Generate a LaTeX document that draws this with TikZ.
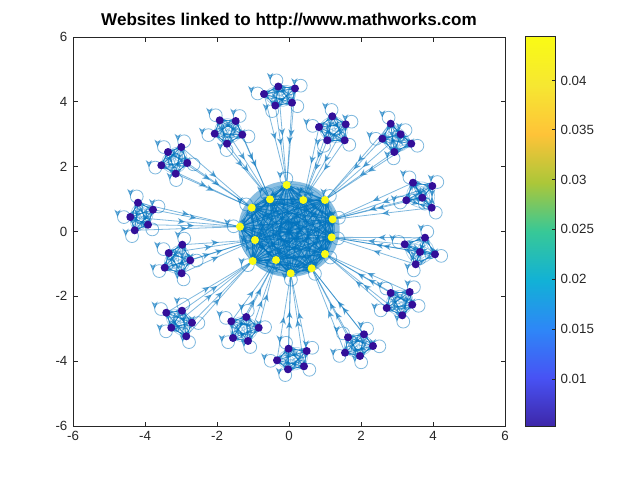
\documentclass[tikz,border=0pt]{standalone}
\usepackage{fontspec}
\setmainfont{Liberation Sans}
\usetikzlibrary{decorations.markings,arrows.meta,calc}
\pgfdeclarelayer{edges}
\pgfsetlayers{edges,main}
\definecolor{eblue}{rgb}{0,0.447,0.741}
\definecolor{ylw}{rgb}{0.9769,0.9839,0.0805}
\definecolor{prp}{rgb}{0.20,0.06,0.60}
\definecolor{axc}{rgb}{0.15,0.15,0.15}
\definecolor{p0}{rgb}{0.2422,0.1504,0.6603}
\definecolor{p1}{rgb}{0.2810,0.3228,0.9579}
\definecolor{p2}{rgb}{0.1786,0.5289,0.9682}
\definecolor{p3}{rgb}{0.0689,0.6948,0.8394}
\definecolor{p4}{rgb}{0.2161,0.7843,0.5923}
\definecolor{p5}{rgb}{0.6720,0.7793,0.2227}
\definecolor{p6}{rgb}{0.9970,0.7659,0.2199}
\definecolor{p7}{rgb}{0.9651,0.9063,0.1939}
\definecolor{p8}{rgb}{0.9769,0.9839,0.0805}
\tikzset{
  ynode/.style={circle,fill=ylw,inner sep=0pt,minimum size=6pt},
  cnode/.style={circle,fill=prp,inner sep=0pt,minimum size=6pt},
  midarrow/.style={postaction={decorate},decoration={markings,mark=at position 0.5 with {\arrow{Stealth[length=5.6pt,width=4.8pt,inset=1.6pt]}}}},
  gedge/.style={draw=eblue,opacity=0.5,line width=0.6pt,midarrow},
  cedge/.style={draw=eblue,opacity=0.35,line width=0.5pt},
  gloop/.style={draw=eblue,opacity=0.5,line width=0.6pt,midarrow},
  ticklab/.style={text=axc,font=\fontsize{10}{12}\selectfont,inner sep=1pt},
  titlelab/.style={text=black,font=\bfseries\fontsize{12.8}{14}\selectfont,inner sep=0pt},
  axline/.style={draw=axc,line width=0.5pt}
}
\def\clusterlist{%
A/1/{(264,94),(278.3,86.5),(295,88.5),(292,102.7),(275.3,105.5)},%
B/2/{(219.7,120.3),(235.7,121),(214.7,133.7),(242.3,134.7),(227,143.7)},%
C/5/{(181.3,147),(168,152),(187.3,163),(161.3,165.3),(175.7,173.7)},%
D/7/{(138,202.7),(153,209.7),(130.3,217),(148,224.7),(134.7,230.3)},%
E/3/{(332.3,116.3),(319,127),(345.7,124.3),(327.3,140.3),(344.7,140.3)},%
F/4/{(390.7,123.7),(400.7,134.3),(382.3,138.7),(411.3,143.7),(394.3,152)},%
G/6/{(413,182.7),(432.3,186),(406.3,200.3),(422.3,197.7),(431.7,207.7)},%
H/8/{(182.3,244.7),(168.7,253),(190.3,260.3),(164.7,267.7),(181.7,273.3)},%
I/11/{(166.3,312.7),(182,310.7),(192,322.7),(171.3,327.7),(186.3,336.3)},%
J/12/{(231.3,321.3),(246.3,317),(258.7,327.7),(233,338),(248,341)},%
K/14/{(288.5,348.7),(306.7,351),(277,360.3),(288,369.3),(304,366.3)},%
L/13/{(348,337.3),(364,334.3),(373,346),(345,352.7),(360,356)},%
M/10/{(390.7,293),(409.7,292),(386.7,308),(412.3,304.7),(402.3,315.3)},%
N/9/{(425,237.7),(404.7,244.3),(420,252),(435,254.3),(415.7,264.3)}}
\begin{document}
\begin{tikzpicture}[x=0.75pt,y=-0.75pt]
\useasboundingbox (0,0) rectangle (640,480);
% title
\node[titlelab,anchor=base] (title) at (289,25.5) {Websites linked to http://www.mathworks.com};
% axes box
\draw[axline] (73,37) rectangle (505,426);
\foreach \v/\px in {-6/73,-4/145,-2/217,0/289,2/361,4/433,6/505}{
  \draw[axline] (\px,426) -- (\px,421.5);
  \draw[axline] (\px,37) -- (\px,41.5);
  \node[ticklab,anchor=north] (xl\px) at (\px,430) {\v};
}
\foreach \v/\py in {6/37,4/101.8,2/166.7,0/231.5,-2/296.3,-4/361.2,-6/426}{
  \draw[axline] (73,\py) -- (77.5,\py);
  \draw[axline] (505,\py) -- (500.5,\py);
  \node[ticklab,anchor=east] (yl\py) at (69,\py) {\v};
}
% colorbar
\foreach \k [evaluate=\k as \kk using int(\k+1)] in {0,...,7}{
  \shade[bottom color=p\k,top color=p\kk] (525,{426.5-48.75*\k}) rectangle (555,{426.5-48.75*(\k+1)});
}
\draw[axline] (525,36.5) rectangle (555,426.5);
\foreach \v/\py in {0.04/80.7,0.035/129.8,0.03/179.5,0.025/229.3,0.02/279.3,0.015/329.3,0.01/379.3}{
  \draw[axline] (555,\py) -- (551.5,\py);
  \node[ticklab,anchor=west] (cl\v) at (559,\py) {\v};
}
% central nodes
\foreach \p [count=\i] in {(286.7,185),(270,199.3),(303.3,200),(325,200),(251.7,207.7),(332.7,219.3),(240,226.7),(255,240),(331.7,237.3),(325,254),(252.7,261),(276,260),(311.7,268.3),(290.7,273.3)}{
  \node[ynode] (y\i) at \p {};
}
\coordinate (cY) at (289,230);
% cluster nodes
\foreach \c/\t/\pts in \clusterlist {
  \foreach \p [count=\i] in \pts { \node[cnode] (\c\i) at \p {}; }
  \coordinate (c\c) at ($0.2*(\c1)+0.2*(\c2)+0.2*(\c3)+0.2*(\c4)+0.2*(\c5)$);
}
\begin{pgfonlayer}{edges}
  \fill[eblue,opacity=0.45] (289,229) ellipse [x radius=38pt, y radius=36pt];
  \foreach \i in {1,...,14}{
    \foreach \j in {1,...,14}{
      \ifnum\i=\j\relax\else
        \draw[gedge] (y\i.center) -- (y\j.center);
        \draw[cedge] (y\i.center) to[bend left=28] (y\j.center);
      \fi
    }
    \draw[gloop] ($(y\i.center)!-4.8pt!(cY)$) circle[radius=4.8pt];
  }
  \foreach \c/\t/\pts in \clusterlist {
    \foreach \i in {1,...,5}{
      \foreach \j in {1,...,5}{
        \ifnum\i=\j\relax\else
          \draw[gedge] (\c\i.center) -- (\c\j.center);
          \draw[cedge] (\c\i.center) to[bend left=25] (\c\j.center);
        \fi
      }
      \draw[gedge] (\c\i.center) -- (y\t.center);
      \draw[gloop] ($(\c\i.center)!-4.8pt!(c\c)$) circle[radius=4.8pt];
    }
  }
\end{pgfonlayer}
\end{tikzpicture}
\end{document}
